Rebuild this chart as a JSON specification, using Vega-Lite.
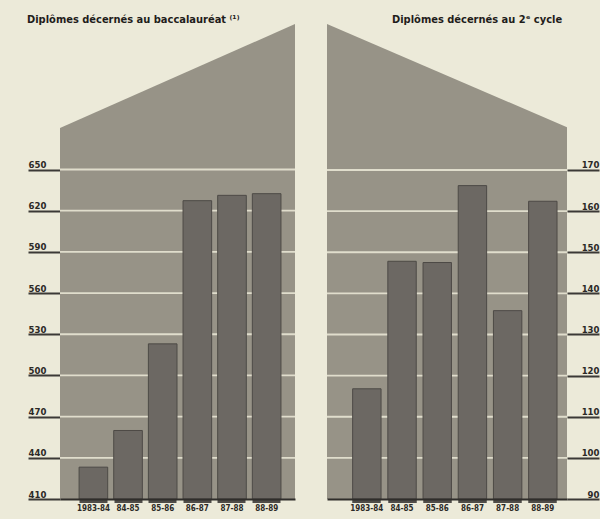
{
  "$schema": "https://vega.github.io/schema/vega-lite/v6.json",
  "background": "#ecead9",
  "padding": {"left": 27, "top": 14, "right": 0, "bottom": 4},
  "spacing": 30,
  "datasets": {
    "bac": [
      {"period": "1983-84", "value": 433.2},
      {"period": "84-85", "value": 459.9},
      {"period": "85-86", "value": 523.0},
      {"period": "86-87", "value": 627.3},
      {"period": "87-88", "value": 631.2},
      {"period": "88-89", "value": 632.4}
    ],
    "cycle2": [
      {"period": "1983-84", "value": 116.8},
      {"period": "84-85", "value": 147.8},
      {"period": "85-86", "value": 147.5},
      {"period": "86-87", "value": 166.2},
      {"period": "87-88", "value": 135.8},
      {"period": "88-89", "value": 162.4}
    ],
    "roofLeft": [{"pos": 0, "top": 680.2}, {"pos": 1, "top": 756}],
    "roofRight": [{"pos": 0, "top": 205.5}, {"pos": 1, "top": 180.4}],
    "gridLeft": [{"v": 440}, {"v": 470}, {"v": 500}, {"v": 530}, {"v": 560}, {"v": 590}, {"v": 620}, {"v": 650}],
    "gridRight": [{"v": 100}, {"v": 110}, {"v": 120}, {"v": 130}, {"v": 140}, {"v": 150}, {"v": 160}, {"v": 170}]
  },
  "hconcat": [
    {
      "width": 235,
      "height": 475,
      "title": {
        "text": "Diplômes décernés au baccalauréat ⁽¹⁾",
        "anchor": "start",
        "frame": "bounds",
        "offset": -1
      },
      "layer": [
        {
          "data": {"name": "roofLeft"},
          "mark": {"type": "area", "color": "#979387", "interpolate": "linear"},
          "encoding": {
            "x": {"field": "pos", "type": "quantitative", "scale": {"domain": [0, 1], "nice": false, "zero": false}, "axis": null},
            "y": {"field": "top", "type": "quantitative", "scale": {"domain": [410, 756], "nice": false, "zero": false}},
            "y2": {"datum": 410}
          }
        },
        {
          "data": {"name": "gridLeft"},
          "mark": {"type": "rule", "color": "#e8e6d4", "strokeWidth": 1.8, "opacity": 0.9},
          "encoding": {
            "y": {"field": "v", "type": "quantitative", "scale": {"domain": [410, 756], "nice": false, "zero": false}}
          }
        },
        {
          "data": {"name": "bac"},
          "mark": {"type": "bar", "color": "#6c6863", "stroke": "#4d4a46", "strokeWidth": 1},
          "encoding": {
            "x": {
              "field": "period", "type": "nominal", "sort": null,
              "scale": {"paddingInner": 0.174, "paddingOuter": 0.478, "align": 0.576},
              "axis": {"title": null, "labelAngle": 0, "tickSize": 3.5, "tickWidth": 28, "tickColor": "#4f4c48", "domainColor": "#2f2d2a", "domainWidth": 2, "labelPadding": 2, "zindex": 1}
            },
            "y": {
              "field": "value", "type": "quantitative",
              "scale": {"domain": [410, 756], "nice": false, "zero": false},
              "axis": {"title": null, "values": [410, 440, 470, 500, 530, 560, 590, 620, 650], "grid": false, "domain": false, "tickSize": 32, "tickWidth": 2, "tickColor": "#3b3936", "labelAlign": "left", "labelBaseline": "alphabetic", "labelOffset": -2, "labelPadding": 0}
            },
            "y2": {"datum": 410}
          }
        }
      ],
      "resolve": {"scale": {"x": "independent"}}
    },
    {
      "width": 240,
      "height": 475,
      "title": {
        "text": "Diplômes décernés au 2ᵉ cycle",
        "anchor": "start",
        "frame": "group",
        "dx": 65,
        "offset": -1
      },
      "layer": [
        {
          "data": {"name": "roofRight"},
          "mark": {"type": "area", "color": "#979387", "interpolate": "linear"},
          "encoding": {
            "x": {"field": "pos", "type": "quantitative", "scale": {"domain": [0, 1], "nice": false, "zero": false}, "axis": null},
            "y": {"field": "top", "type": "quantitative", "scale": {"domain": [90, 205.5], "nice": false, "zero": false}},
            "y2": {"datum": 90}
          }
        },
        {
          "data": {"name": "gridRight"},
          "mark": {"type": "rule", "color": "#e8e6d4", "strokeWidth": 1.8, "opacity": 0.9},
          "encoding": {
            "y": {"field": "v", "type": "quantitative", "scale": {"domain": [90, 205.5], "nice": false, "zero": false}}
          }
        },
        {
          "data": {"name": "cycle2"},
          "mark": {"type": "bar", "color": "#6c6863", "stroke": "#4d4a46", "strokeWidth": 1},
          "encoding": {
            "x": {
              "field": "period", "type": "nominal", "sort": null,
              "scale": {"paddingInner": 0.193, "paddingOuter": 0.506, "align": 0.72},
              "axis": {"title": null, "labelAngle": 0, "tickSize": 3.5, "tickWidth": 28.5, "tickColor": "#4f4c48", "domainColor": "#2f2d2a", "domainWidth": 2, "labelPadding": 2, "zindex": 1}
            },
            "y": {
              "field": "value", "type": "quantitative",
              "scale": {"domain": [90, 205.5], "nice": false, "zero": false},
              "axis": {"title": null, "orient": "right", "values": [90, 100, 110, 120, 130, 140, 150, 160, 170], "grid": false, "domain": false, "tickSize": 32, "tickWidth": 2, "tickColor": "#3b3936", "labelAlign": "right", "labelBaseline": "alphabetic", "labelOffset": -2, "labelPadding": 0}
            },
            "y2": {"datum": 90}
          }
        }
      ],
      "resolve": {"scale": {"x": "independent"}}
    }
  ],
  "config": {
    "view": {"stroke": null},
    "font": "DejaVu Sans Condensed, sans-serif",
    "title": {"fontSize": 11, "fontWeight": "bold", "color": "#1f1d1b", "font": "DejaVu Sans Condensed, sans-serif"},
    "axis": {"labelFont": "DejaVu Sans Condensed, sans-serif", "labelFontWeight": "bold", "labelColor": "#2b2926", "labelFontSize": 9.5},
    "axisX": {"labelFontSize": 8}
  }
}
